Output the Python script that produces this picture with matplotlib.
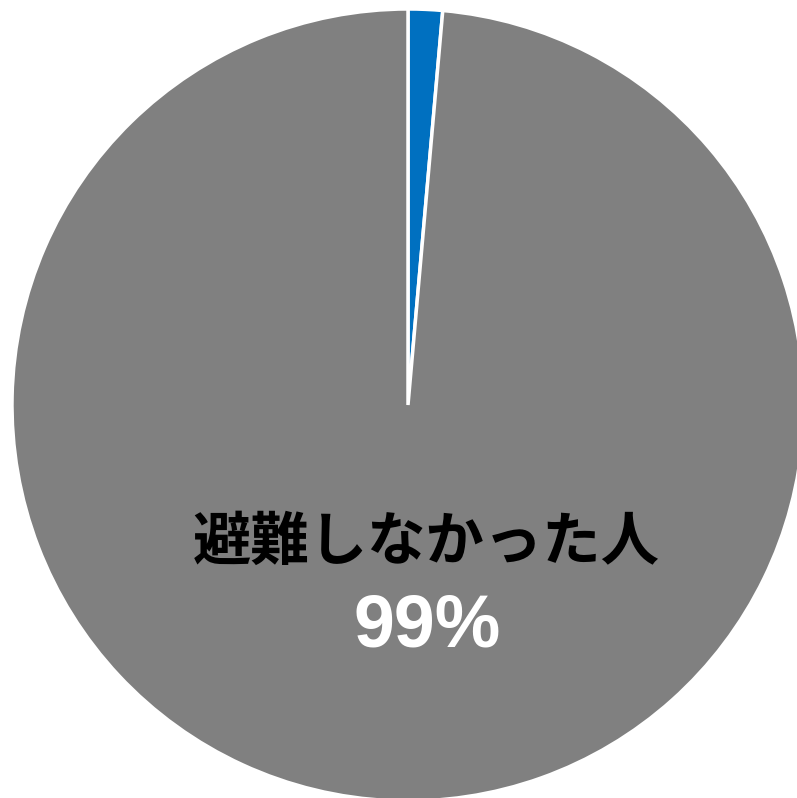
import matplotlib.pyplot as plt

# share of people (%)
labels = ['避難した人', '避難しなかった人']
values = [1.4, 98.6]
colors = ['#0070C0', '#808080']
shown_label = '避難しなかった人'
shown_pct = '99%'

fig = plt.figure(figsize=(7.97, 7.98), dpi=100)
ax = fig.add_axes([0, 0, 1, 1])

ax.pie(values, colors=colors, startangle=90, counterclock=False,
       center=(408, 393), radius=396,
       wedgeprops=dict(edgecolor='white', linewidth=2.5))

# pie() resets the limits, so set them afterwards (1 unit = 1 pixel)
ax.set_xlim(0, 797)
ax.set_ylim(0, 798)
ax.set_aspect('equal')
ax.axis('off')

ax.text(426, 255, shown_label, ha='center', va='center', fontsize=42,
        fontweight='bold', color='black',
        family=['Noto Sans CJK JP', 'DejaVu Sans'])
ax.text(427, 171, shown_pct, ha='center', va='center', fontsize=53,
        fontweight='bold', color='white', family='Liberation Sans')

fig.savefig('out.png', dpi=100)
